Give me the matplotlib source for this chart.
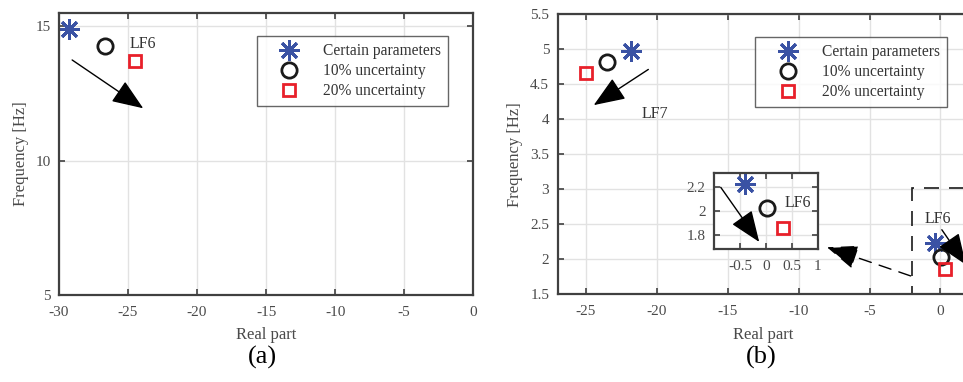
import matplotlib.pyplot as plt
from matplotlib.patches import Rectangle

plt.rcParams['font.family'] = ['Liberation Serif', 'DejaVu Serif']
plt.rcParams['font.size'] = 10
plt.rcParams['axes.unicode_minus'] = False

# ----------------- DATA -----------------
# (a) LF6 mode: real part / frequency
lf6_re = [-29.3, -26.7, -24.5]
lf6_hz = [14.9, 14.27, 13.7]

# (b) LF7 mode and the LF6 cluster near the imaginary axis
lf7_re = [-21.8, -23.5, -25.0]
lf7_hz = [4.98, 4.81, 4.66]
lf6b_re = [-0.4, 0.02, 0.33]
lf6b_hz = [2.225, 2.025, 1.86]

labels = ["Certain parameters", "10% uncertainty", "20% uncertainty"]

ticks_a_x = [-30, -25, -20, -15, -10, -5, 0]
ticks_a_y = [5, 10, 15]
ticks_b_x = [-25, -20, -15, -10, -5, 0]
ticks_b_y = [1.5, 2, 2.5, 3, 3.5, 4, 4.5, 5, 5.5]
ticks_in_x = [-0.5, 0, 0.5, 1]
ticks_in_y = [1.8, 2.0, 2.2]

# ----------------- STYLE -----------------
SPINE = "#404040"
GRID = "#e2e2e2"
TXT = "#4a4a4a"
styles = [
    dict(marker=(8, 2, 0), color="#3a52a4", ms=15, mew=2.1, ls="none"),
    dict(marker="o", mfc="none", mec="#1a1a1a", ms=11, mew=2.0, ls="none"),
    dict(marker="s", mfc="none", mec="#e8202a", ms=9, mew=2.0, ls="none"),
]


def style_axes(ax):
    for s in ax.spines.values():
        s.set_color(SPINE)
        s.set_linewidth(1.6)
    ax.grid(True, color=GRID, lw=1.0)
    ax.set_axisbelow(True)
    ax.tick_params(direction="in", top=True, right=True, length=4,
                   width=1.2, color=SPINE, labelcolor=TXT, labelsize=11,
                   pad=6)
    ax.tick_params(axis="x", pad=8)


def draw_points(ax, xs, ys, with_label=True):
    for x, y, lab, st in zip(xs, ys, labels, styles):
        ax.plot([x], [y], label=lab if with_label else None, **st)


def arrow(ax, start, end, lw=1.0, ls="-"):
    ax.annotate("", xy=end, xytext=start,
                arrowprops=dict(arrowstyle="-|>,head_length=1.4,head_width=0.55",
                                mutation_scale=14, lw=lw, ls=ls,
                                color="black", shrinkA=0, shrinkB=0))


def add_legend(ax, x_anchor):
    leg = ax.legend(loc="upper right", bbox_to_anchor=(x_anchor, 0.917),
                    fontsize=11.2, frameon=True, fancybox=False,
                    edgecolor=SPINE, handletextpad=0.55, borderpad=0.45,
                    labelspacing=0.25, handlelength=3.3, borderaxespad=0)
    leg.get_frame().set_linewidth(1.0)
    for t in leg.get_texts():
        t.set_color("#333333")
    return leg


fig = plt.figure(figsize=(9.63, 3.82), dpi=100)

# ----------------- (a) -----------------
ax1 = fig.add_axes([0.0613, 0.228, 0.430, 0.738])
style_axes(ax1)
draw_points(ax1, lf6_re, lf6_hz)
ax1.set_xlim(-30, 0)
ax1.set_ylim(5, 15.5)
ax1.set_xticks(ticks_a_x)
ax1.set_yticks(ticks_a_y)
ax1.set_xlabel("Real part", color=TXT, fontsize=12, labelpad=6)
ax1.set_ylabel("Frequency [Hz]", color=TXT, fontsize=12, labelpad=5)
ax1.text(-24.9, 14.35, "LF6", fontsize=11.5, color="#333333", va="center")
arrow(ax1, (-29.05, 13.75), (-23.9, 11.95))
add_legend(ax1, 0.94)
fig.text(0.273, 0.065, "(a)", fontsize=19, ha="center", va="center")

# ----------------- (b) -----------------
ax2 = fig.add_axes([0.579, 0.230, 0.427, 0.733])
style_axes(ax2)
ax2.spines["right"].set_visible(False)
ax2.tick_params(right=False)
draw_points(ax2, lf7_re, lf7_hz)
draw_points(ax2, lf6b_re, lf6b_hz, with_label=False)
ax2.set_xlim(-27, 2)
ax2.set_ylim(1.5, 5.5)
ax2.set_xticks(ticks_b_x)
ax2.set_yticks(ticks_b_y)
ax2.set_yticklabels(["1.5", "2", "2.5", "3", "3.5", "4", "4.5", "5", "5.5"])
ax2.set_xlabel("Real part", color=TXT, fontsize=12, labelpad=6)
ax2.set_ylabel("Frequency [Hz]", color=TXT, fontsize=12, labelpad=5)
ax2.text(-21.1, 4.07, "LF7", fontsize=11.5, color="#333333", va="center")
arrow(ax2, (-20.6, 4.71), (-24.45, 4.2))
ax2.text(-1.1, 2.57, "LF6", fontsize=11.5, color="#333333", va="center")
arrow(ax2, (0.1, 2.42), (1.8, 1.92))
ax2.add_patch(Rectangle((-2.0, 1.5), 5.0, 1.52, fill=False, ec="#1a1a1a",
                        lw=1.2, ls=(0, (9, 6)), clip_on=True))
arrow(ax2, (-2.1, 1.76), (-8.0, 2.17), lw=1.0, ls=(0, (9, 6)))
add_legend(ax2, 0.947)
fig.text(0.79, 0.065, "(b)", fontsize=19, ha="center", va="center")

# zoomed inset on the LF6 cluster
ax3 = fig.add_axes([0.7414, 0.348, 0.108, 0.199])
style_axes(ax3)
draw_points(ax3, lf6b_re, lf6b_hz, with_label=False)
ax3.set_xlim(-1, 1)
ax3.set_ylim(1.68, 2.32)
ax3.set_xticks(ticks_in_x)
ax3.set_xticklabels(["-0.5", "0", "0.5", "1"])
ax3.set_yticks(ticks_in_y)
ax3.set_yticklabels(["1.8", "2", "2.2"])
ax3.text(0.35, 2.07, "LF6", fontsize=11.5, color="#333333", va="center")
arrow(ax3, (-0.87, 2.2), (-0.13, 1.74))

fig.savefig("out.png", dpi=100)
